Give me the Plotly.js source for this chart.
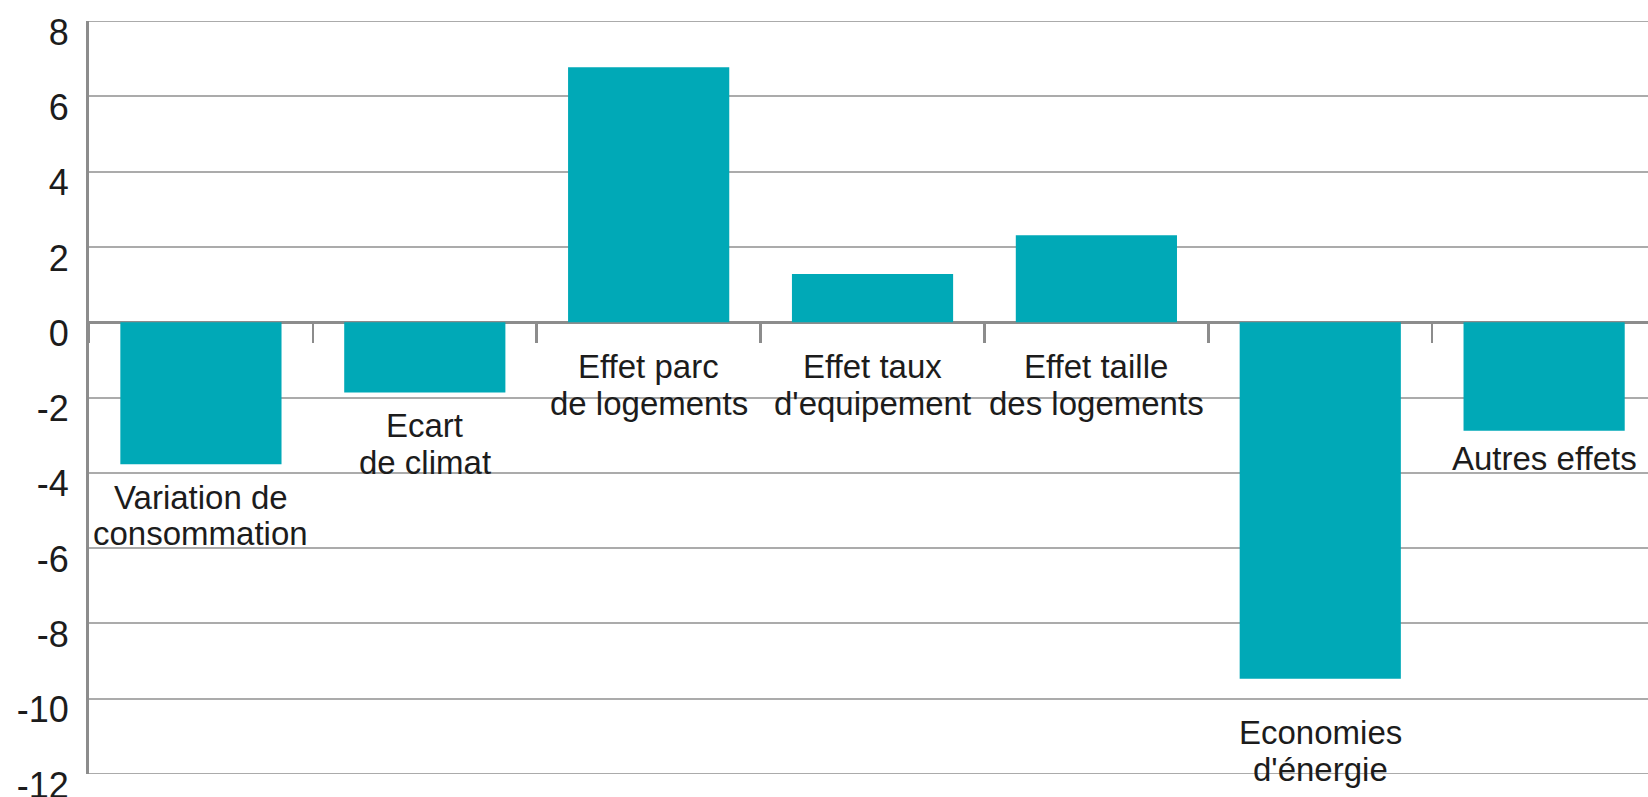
<!DOCTYPE html>
<html><head><meta charset="utf-8">
<script src="https://cdn.plot.ly/plotly-3.0.1.min.js"></script>
<style>html,body{margin:0;padding:0;background:#fff;overflow:hidden}#chart{width:1648px;height:797px}</style>
</head><body><div id="chart"></div>
<script>
// ---- data ----
const categories = ["Variation de consommation", "Ecart de climat", "Effet parc de logements",
  "Effet taux d'equipement", "Effet taille des logements", "Economies d'énergie", "Autres effets"];
const labelLines = [["Variation de", "consommation"], ["Ecart", "de climat"], ["Effet parc", "de logements"],
  ["Effet taux", "d'equipement"], ["Effet taille", "des logements"], ["Economies", "d'énergie"], ["Autres effets"]];
const values = [-3.77, -1.87, 6.77, 1.28, 2.31, -9.47, -2.88];
const yTicks = [8, 6, 4, 2, 0, -2, -4, -6, -8, -10, -12];

// ---- style / layout config ----
const FONT = "'Liberation Sans', Arial, sans-serif";
const LABEL_SIZE = 33;
const lineStep = [36, 37, 37, 37, 37, 37, 37];          // px between label baselines
const firstBaselineGap = [45, 44, 56, 56, 56, 65, 39]; // px from bar end / zero line to first baseline
const BAR_COLOR = '#00a9b7';
const GRID_COLOR = '#ababab';
const AXIS_COLOR = '#8c8c8c';
const TEXT_COLOR = '#1c1c1c';

const annotations = [];
labelLines.forEach((lines, i) => {
  const anchor = Math.min(values[i], 0);
  lines.forEach((txt, k) => {
    const baseline = firstBaselineGap[i] + k * lineStep[i];
    annotations.push({
      x: i, y: anchor, xref: 'x', yref: 'y',
      text: txt, showarrow: false,
      xanchor: 'center', yanchor: 'middle',
      yshift: -(baseline - 0.35 * LABEL_SIZE),
      font: {family: FONT, size: LABEL_SIZE, color: TEXT_COLOR}
    });
  });
});

// edge gridlines (top and bottom ticks) that Plotly omits at the range ends
const edgeGrid = [yTicks[0], yTicks[yTicks.length - 1]].map(v => ({
  type: 'line', xref: 'paper', x0: 0, x1: 1, yref: 'y', y0: v, y1: v,
  line: {color: GRID_COLOR, width: 2}, layer: 'below'
}));

const trace = {
  type: 'bar', x: categories, y: values,
  marker: {color: BAR_COLOR, line: {width: 0}},
  hoverinfo: 'skip'
};

const layout = {
  width: 1648, height: 797,
  margin: {l: 89, r: 0, t: 21, b: 23, pad: 0},
  paper_bgcolor: '#ffffff', plot_bgcolor: '#ffffff',
  bargap: 0.28, showlegend: false,
  font: {family: FONT, color: TEXT_COLOR},
  xaxis: {
    type: 'category', range: [-0.5, 6.464],
    anchor: 'free', position: 0.6,
    showline: true, linecolor: AXIS_COLOR, linewidth: 3,
    ticks: 'outside', tickson: 'boundaries', ticklen: 19, tickwidth: 2.5, tickcolor: AXIS_COLOR,
    showticklabels: false, showgrid: false, zeroline: false,
    layer: 'below traces', fixedrange: true
  },
  yaxis: {
    range: [-12, 8], tickmode: 'array', tickvals: yTicks, ticktext: yTicks.map(String),
    showgrid: true, gridcolor: GRID_COLOR, gridwidth: 2,
    zeroline: false, showline: true, linecolor: AXIS_COLOR, linewidth: 3,
    ticks: '', ticklabelstandoff: 10, ticklabelshift: 11, ticklabeloverflow: 'allow',
    tickfont: {family: FONT, size: 36, color: TEXT_COLOR},
    automargin: false, fixedrange: true, layer: 'below traces'
  },
  shapes: edgeGrid,
  annotations: annotations
};

Plotly.newPlot('chart', [trace], layout, {displayModeBar: false, staticPlot: true});
</script>
</body></html>
